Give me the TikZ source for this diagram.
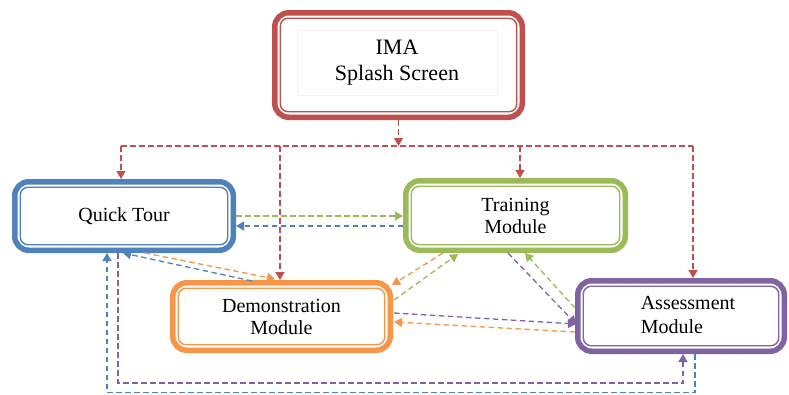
\documentclass[tikz,border=0pt]{standalone}
\usepackage{fontspec}
\setmainfont{Liberation Serif}
\usetikzlibrary{calc,arrows.meta}
\definecolor{cred}{HTML}{C0504D}
\definecolor{cblue}{HTML}{4F81BD}
\definecolor{cgreen}{HTML}{9BBB59}
\definecolor{corange}{HTML}{F79646}
\definecolor{cpurple}{HTML}{8064A2}
\newcommand{\innerframe}[2]{%
  \draw[#2, line width=1.4pt, rounded corners=8pt]
    ([xshift=8.25pt,yshift=-8.25pt]#1.north west) rectangle
    ([xshift=-8.25pt,yshift=8.25pt]#1.south east);}
\tikzset{
  modbox/.style={draw=#1, line width=5.5pt, rounded corners=14pt, fill=white,
    inner sep=0pt, align=center, font=\fontsize{20}{22}\selectfont},
  conn/.style={draw=#1, line width=1.3pt, dash pattern=on 5.5pt off 3.5pt},
  arr/.style={conn=#1, -{Triangle[length=8pt,width=9pt]}}
}
\begin{document}
\begin{tikzpicture}[x=1pt,y=-1pt]
\fill[white] (0,0) rectangle (789,394);
\useasboundingbox (0,0) rectangle (789,394);

% boxes
\node[modbox=cred, minimum width=247.5pt, minimum height=104.5pt] (ima) at (398.5,65) {};
\innerframe{ima}{cred}
\node[draw=black!5, fill=black!0.5, line width=0.8pt, minimum width=200pt, minimum height=65pt,
  align=center, font=\fontsize{22}{26}\selectfont] (imat) at (397,62.5) {IMA\\Splash Screen};

\node[modbox=cblue, minimum width=218.5pt, minimum height=68.5pt] (qt) at (124,216) {Quick Tour};
\innerframe{qt}{cblue}
\node[modbox=cgreen, minimum width=219.5pt, minimum height=69.5pt] (tm) at (515.5,215.5) {Training\\Module};
\innerframe{tm}{cgreen}
\node[modbox=corange, minimum width=217.5pt, minimum height=67.5pt] (dm) at (281.5,316.5) {Demonstration\\Module};
\innerframe{dm}{corange}
\node[modbox=cpurple, minimum width=206.5pt, minimum height=70.5pt] (am) at (681,316) {};
\innerframe{am}{cpurple}
\node[align=left, inner sep=0pt, font=\fontsize{20}{24}\selectfont] (amt) at (688,315) {Assessment\\Module};

% red distribution
\coordinate (bus) at (0,146);
\coordinate (qtT) at ($(qt.north west)+(109,0)$);
\coordinate (dmT) at ($(dm.north west)+(110,0)$);
\coordinate (tmT) at ($(tm.north west)+(117,0)$);
\coordinate (amT) at ($(am.north west)+(118,0)$);
\draw[arr=cred] (ima.south) -- (ima.south |- bus);
\draw[conn=cred] (qtT |- bus) -- (amT |- bus);
\draw[arr=cred] (qtT |- bus) -- (qtT);
\draw[arr=cred] (dmT |- bus) -- (dmT);
\draw[arr=cred] (tmT |- bus) -- (tmT);
\draw[arr=cred] (amT |- bus) -- (amT);

% quick tour <-> training
\draw[arr=cgreen] ($(qt.north east)+(0,37)$) -- ($(tm.north west)+(0,38)$);
\draw[arr=cblue] ($(tm.north west)+(0,48)$) -- ($(qt.north east)+(0,47)$);

% quick tour <-> demonstration
\draw[arr=corange] ($(qt.south west)+(133,0)$) -- ($(dm.north west)+(105,-1)$);
\draw[arr=cblue] ($(dm.north west)+(82,1)$) -- ($(qt.south west)+(111,0)$);

% training <-> demonstration
\draw[arr=corange] ($(tm.south west)+(40,0)$) -- ($(dm.north east)+(-1,5)$);
\draw[arr=cgreen] ($(dm.north east)+(1,20)$) -- ($(tm.south west)+(55,1)$);

% training <-> assessment
\draw[arr=cpurple] ($(tm.south west)+(105,0)$) -- ($(am.north west)+(1,46)$);
\draw[arr=cgreen] ($(am.north west)+(0,30)$) -- ($(tm.south west)+(122,0)$);

% demonstration <-> assessment
\draw[arr=cpurple] ($(dm.north east)+(1,33)$) -- ($(am.north west)+(1,46)$);
\draw[arr=corange] ($(am.north west)+(0,54)$) -- ($(dm.north east)+(1,42)$);

% bottom loops
\coordinate (pbot) at (0,383);
\coordinate (bbot) at (0,392.5);
\coordinate (qtP) at ($(qt.south west)+(106,0)$);
\coordinate (amP) at ($(am.south west)+(108,0)$);
\coordinate (qtB) at ($(qt.south west)+(95,0)$);
\coordinate (amB) at ($(am.south west)+(120,0)$);
\draw[arr=cpurple] (qtP) -- (qtP |- pbot) -- (amP |- pbot) -- (amP);
\draw[arr=cblue] (amB) -- (amB |- bbot) -- (qtB |- bbot) -- (qtB);
\end{tikzpicture}
\end{document}
